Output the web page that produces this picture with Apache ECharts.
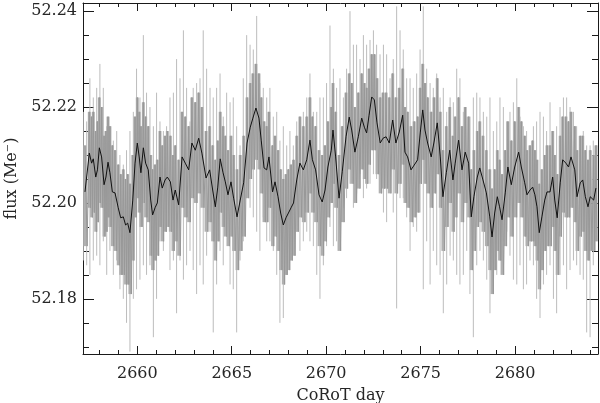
<!DOCTYPE html>
<html>
<head>
<meta charset="utf-8">
<script src="https://cdn.jsdelivr.net/npm/echarts@6/dist/echarts.min.js"></script>
<style>html,body{margin:0;padding:0;background:#fff}#c{width:600px;height:403px}</style>
</head>
<body>
<div id="c"></div>
<script>
// ---- data ----
const xMajorTicks = [2660, 2665, 2670, 2675, 2680];
const xMinorTicks = [2658, 2659, 2661, 2662, 2663, 2664, 2666, 2667, 2668, 2669, 2671, 2672, 2673, 2674, 2676, 2677, 2678, 2679, 2681, 2682, 2683, 2684];
const yMajorTicks = [52.18, 52.20, 52.22, 52.24];
const yMinorTicks = [52.17, 52.175, 52.185, 52.19, 52.195, 52.205, 52.21, 52.215, 52.225, 52.23, 52.235];

// smoothed (black) curve
const smoothDay = [2657.23,2657.46,2657.58,2657.67,2657.80,2657.89,2657.99,2658.11,2658.24,2658.34,
2658.45,2658.55,2658.68,2658.82,2658.99,2659.12,2659.26,2659.38,2659.49,2659.61,
2659.76,2659.88,2660.00,2660.10,2660.19,2660.32,2660.44,2660.58,2660.71,2660.81,
2660.94,2661.06,2661.20,2661.32,2661.47,2661.59,2661.75,2661.89,2662.01,2662.19,
2662.37,2662.54,2662.72,2662.89,2663.07,2663.25,2663.42,2663.64,2663.83,2663.99,
2664.13,2664.26,2664.39,2664.54,2664.66,2664.80,2664.96,2665.10,2665.28,2665.45,
2665.63,2665.81,2665.98,2666.12,2666.28,2666.44,2666.56,2666.71,2666.85,2666.97,
2667.16,2667.29,2667.45,2667.59,2667.73,2667.87,2668.00,2668.14,2668.27,2668.44,
2668.61,2668.79,2668.97,2669.14,2669.27,2669.44,2669.62,2669.79,2669.94,2670.09,
2670.27,2670.36,2670.50,2670.68,2670.85,2671.05,2671.22,2671.35,2671.52,2671.70,
2671.88,2672.02,2672.14,2672.27,2672.41,2672.55,2672.69,2672.86,2673.01,2673.17,
2673.34,2673.52,2673.69,2673.87,2674.05,2674.17,2674.31,2674.49,2674.66,2674.84,
2674.98,2675.11,2675.23,2675.37,2675.56,2675.71,2675.88,2676.04,2676.18,2676.36,
2676.54,2676.71,2676.83,2677.01,2677.19,2677.36,2677.54,2677.68,2677.82,2678.00,
2678.13,2678.30,2678.48,2678.66,2678.78,2678.92,2679.06,2679.18,2679.31,2679.48,
2679.62,2679.80,2679.98,2680.19,2680.33,2680.51,2680.63,2680.79,2680.93,2681.05,
2681.16,2681.28,2681.42,2681.57,2681.69,2681.85,2681.99,2682.10,2682.23,2682.39,
2682.52,2682.69,2682.83,2682.96,2683.16,2683.28,2683.45,2683.58,2683.72,2683.86,
2683.98,2684.16,2684.28];
const smoothFlux = [52.2023,52.2104,52.2083,52.2092,52.2054,52.2069,52.2115,52.2096,52.2038,52.2054,
52.2085,52.2063,52.2023,52.2021,52.1990,52.1969,52.1971,52.1954,52.1958,52.1938,
52.2006,52.2083,52.2125,52.2096,52.2063,52.2115,52.2083,52.2069,52.2006,52.1975,
52.1990,52.2000,52.2054,52.2031,52.2048,52.2054,52.2044,52.2006,52.2027,52.1996,
52.2096,52.2083,52.2069,52.2125,52.2110,52.2135,52.2104,52.2052,52.2069,52.2027,
52.1992,52.2033,52.2092,52.2063,52.2044,52.2017,52.2044,52.2010,52.1971,52.2006,
52.2042,52.2125,52.2158,52.2177,52.2198,52.2177,52.2131,52.2073,52.2069,52.2096,
52.2023,52.2044,52.2013,52.1979,52.1954,52.1969,52.1979,52.1990,52.2000,52.2048,
52.2083,52.2069,52.2090,52.2131,52.2090,52.2069,52.2017,52.2002,52.2027,52.2075,
52.2110,52.2152,52.2096,52.2010,52.2065,52.2138,52.2179,52.2152,52.2106,52.2138,
52.2177,52.2158,52.2146,52.2183,52.2221,52.2215,52.2167,52.2125,52.2135,52.2138,
52.2125,52.2173,52.2125,52.2148,52.2183,52.2106,52.2096,52.2069,52.2079,52.2090,
52.2146,52.2194,52.2152,52.2125,52.2096,52.2127,52.2167,52.2096,52.2013,52.2063,
52.2110,52.2048,52.2083,52.2131,52.2069,52.2106,52.2083,52.1971,52.2013,52.2054,
52.2073,52.2048,52.2021,52.1971,52.1929,52.1979,52.2013,52.1992,52.1965,52.2021,
52.2075,52.2038,52.2075,52.2106,52.2075,52.2042,52.2017,52.2027,52.2033,52.2017,
52.1992,52.1938,52.1971,52.2006,52.2023,52.2023,52.2054,52.2006,52.1969,52.2042,
52.2090,52.2083,52.2075,52.2096,52.2069,52.2013,52.2042,52.2048,52.2013,52.1992,
52.2013,52.2006,52.2031];

// dense core of the raw light curve (upper / lower edge at the same days)
const coreHigh = [52.212,52.219,52.218,52.219,52.215,52.217,52.222,52.220,52.214,52.215,
52.218,52.216,52.212,52.211,52.208,52.206,52.207,52.205,52.206,52.204,
52.210,52.218,52.222,52.219,52.216,52.221,52.218,52.216,52.210,52.207,
52.208,52.209,52.215,52.212,52.214,52.215,52.214,52.210,52.212,52.209,
52.219,52.218,52.216,52.222,52.221,52.223,52.220,52.215,52.216,52.212,
52.209,52.213,52.219,52.216,52.214,52.211,52.214,52.210,52.207,52.210,
52.214,52.222,52.225,52.227,52.229,52.227,52.222,52.217,52.216,52.219,
52.212,52.214,52.211,52.207,52.205,52.206,52.207,52.208,52.209,52.214,
52.218,52.216,52.218,52.222,52.218,52.216,52.211,52.210,52.212,52.217,
52.220,52.225,52.219,52.210,52.216,52.223,52.227,52.225,52.220,52.223,
52.227,52.225,52.224,52.228,52.231,52.231,52.226,52.222,52.223,52.223,
52.222,52.227,52.222,52.224,52.228,52.220,52.219,52.216,52.217,52.218,
52.224,52.229,52.225,52.222,52.219,52.222,52.226,52.219,52.211,52.216,
52.220,52.214,52.218,52.222,52.216,52.220,52.218,52.207,52.211,52.215,
52.217,52.214,52.211,52.207,52.203,52.207,52.211,52.209,52.206,52.211,
52.217,52.213,52.217,52.220,52.217,52.214,52.211,52.212,52.213,52.211,
52.209,52.204,52.207,52.210,52.212,52.212,52.215,52.210,52.206,52.214,
52.218,52.218,52.217,52.219,52.216,52.211,52.214,52.214,52.211,52.209,
52.211,52.210,52.212];
const coreLow = [52.191,52.199,52.197,52.198,52.194,52.196,52.200,52.199,52.193,52.194,
52.197,52.195,52.191,52.190,52.187,52.185,52.185,52.183,52.183,52.181,
52.188,52.197,52.201,52.198,52.195,52.200,52.197,52.196,52.189,52.186,
52.188,52.189,52.195,52.192,52.194,52.195,52.194,52.190,52.192,52.189,
52.199,52.197,52.196,52.201,52.200,52.202,52.199,52.194,52.196,52.192,
52.188,52.192,52.198,52.195,52.193,52.191,52.193,52.190,52.186,52.190,
52.193,52.201,52.205,52.207,52.209,52.207,52.202,52.196,52.196,52.199,
52.191,52.193,52.190,52.186,52.183,52.185,52.186,52.188,52.189,52.194,
52.197,52.196,52.198,52.202,52.198,52.196,52.191,52.189,52.192,52.197,
52.200,52.204,52.199,52.190,52.196,52.203,52.207,52.204,52.200,52.203,
52.207,52.205,52.204,52.208,52.211,52.211,52.206,52.202,52.203,52.203,
52.202,52.207,52.202,52.204,52.208,52.200,52.199,52.196,52.197,52.198,
52.204,52.209,52.204,52.202,52.199,52.202,52.206,52.199,52.190,52.195,
52.200,52.194,52.197,52.202,52.196,52.200,52.197,52.186,52.190,52.195,
52.196,52.194,52.191,52.186,52.181,52.186,52.190,52.188,52.185,52.191,
52.197,52.193,52.197,52.200,52.197,52.193,52.191,52.192,52.192,52.191,
52.188,52.182,52.186,52.190,52.191,52.191,52.195,52.190,52.185,52.193,
52.198,52.197,52.197,52.199,52.196,52.190,52.193,52.194,52.190,52.188,
52.190,52.190,52.192];

// outlying spikes of the raw light curve
const spikeDay = [2657.14,2657.32,2657.49,2657.67,2657.85,2658.02,2658.20,2658.38,2658.55,2658.73,
2658.91,2659.08,2659.26,2659.43,2659.61,2659.79,2659.96,2660.14,2660.32,2660.49,
2660.67,2660.85,2661.02,2661.20,2661.38,2661.55,2661.73,2661.91,2662.08,2662.26,
2662.44,2662.61,2662.79,2662.96,2663.14,2663.32,2663.49,2663.67,2663.85,2664.02,
2664.20,2664.38,2664.55,2664.73,2664.91,2665.08,2665.26,2665.44,2665.61,2665.79,
2665.97,2666.14,2666.32,2666.49,2666.67,2666.85,2667.02,2667.20,2667.38,2667.55,
2667.73,2667.91,2668.08,2668.26,2668.44,2668.61,2668.79,2668.97,2669.14,2669.32,
2669.50,2669.67,2669.85,2670.02,2670.20,2670.38,2670.55,2670.73,2670.91,2671.08,
2671.26,2671.44,2671.61,2671.79,2671.97,2672.14,2672.32,2672.50,2672.67,2672.85,
2673.03,2673.20,2673.38,2673.55,2673.73,2673.91,2674.08,2674.26,2674.44,2674.61,
2674.79,2674.97,2675.14,2675.32,2675.50,2675.67,2675.85,2676.03,2676.20,2676.38,
2676.56,2676.73,2676.91,2677.08,2677.26,2677.44,2677.61,2677.79,2677.97,2678.14,
2678.32,2678.50,2678.67,2678.85,2679.03,2679.20,2679.38,2679.56,2679.73,2679.91,
2680.09,2680.26,2680.44,2680.61,2680.79,2680.97,2681.14,2681.32,2681.50,2681.67,
2681.85,2682.03,2682.20,2682.38,2682.56,2682.73,2682.91,2683.09,2683.26,2683.44,
2683.61,2683.79,2683.97,2684.14,2684.32];
const spikeHigh = [52.219,52.217,52.226,52.222,52.224,52.229,52.224,52.216,52.215,52.213,
52.215,52.210,52.208,52.211,52.215,52.219,52.228,52.222,52.235,52.223,
52.220,52.216,52.223,52.217,52.215,52.216,52.222,52.223,52.230,52.226,
52.236,52.224,52.217,52.224,52.225,52.226,52.236,52.228,52.224,52.222,
52.224,52.227,52.218,52.223,52.221,52.222,52.216,52.212,52.226,52.235,
52.233,52.232,52.239,52.225,52.224,52.222,52.224,52.218,52.219,52.213,
52.216,52.212,52.215,52.212,52.217,52.215,52.219,52.222,52.227,52.219,
52.219,52.222,52.222,52.225,52.237,52.228,52.224,52.226,52.222,52.228,
52.240,52.233,52.233,52.230,52.235,52.233,52.234,52.236,52.233,52.231,
52.233,52.231,52.226,52.230,52.241,52.236,52.232,52.226,52.226,52.224,
52.227,52.232,52.241,52.228,52.225,52.224,52.227,52.222,52.224,52.219,
52.222,52.221,52.228,52.226,52.219,52.218,52.218,52.222,52.223,52.222,
52.219,52.218,52.222,52.215,52.217,52.222,52.220,52.217,52.219,52.221,
52.226,52.218,52.216,52.215,52.211,52.216,52.217,52.219,52.218,52.215,
52.221,52.215,52.216,52.220,52.222,52.222,52.220,52.219,52.216,52.213,
52.215,52.212,52.212,52.213,52.212];
const spikeLow = [52.188,52.187,52.185,52.188,52.189,52.187,52.192,52.185,52.190,52.185,
52.188,52.182,52.180,52.175,52.169,52.180,52.182,52.184,52.187,52.185,
52.187,52.172,52.180,52.192,52.190,52.194,52.186,52.188,52.177,52.188,
52.184,52.187,52.190,52.186,52.181,52.187,52.183,52.189,52.194,52.173,
52.183,52.190,52.187,52.194,52.183,52.182,52.173,52.188,52.192,52.201,
52.199,52.197,52.194,52.190,52.197,52.192,52.192,52.190,52.185,52.175,
52.176,52.185,52.188,52.190,52.194,52.190,52.192,52.194,52.192,52.191,
52.185,52.180,52.187,52.191,52.195,52.191,52.192,52.195,52.199,52.201,
52.204,52.199,52.202,52.206,52.201,52.203,52.204,52.206,52.205,52.203,
52.198,52.196,52.203,52.198,52.178,52.201,52.201,52.197,52.190,52.195,
52.194,52.198,52.182,52.192,52.183,52.190,52.187,52.185,52.177,52.183,
52.189,52.188,52.185,52.183,52.185,52.190,52.181,52.172,52.187,52.190,
52.188,52.184,52.177,52.187,52.185,52.188,52.192,52.194,52.189,52.184,
52.183,52.187,52.182,52.183,52.188,52.187,52.180,52.176,52.183,52.185,
52.187,52.180,52.177,52.185,52.187,52.182,52.186,52.188,52.187,52.185,
52.184,52.173,52.172,52.187,52.194];

// ---- chart ----
const X_MIN = 2657.125, X_MAX = 2684.39;
const Y_MIN = 52.1685, Y_MAX = 52.2417;
const FONT = 'DejaVu Serif';
const AX = '#1a1a1a';
const TXT = '#262626';

function xAxisDef(pos, ticks, len, withLine, withLabel) {
  return {
    type: 'value', position: pos, min: X_MIN, max: X_MAX,
    axisLine: { show: withLine, onZero: false, lineStyle: { color: AX, width: 1 } },
    axisTick: { show: true, inside: true, length: len, customValues: ticks, lineStyle: { color: AX, width: 1 } },
    axisLabel: withLabel ? { show: true, customValues: ticks, formatter: v => String(Math.round(v)),
      fontFamily: FONT, fontSize: 16, color: TXT, margin: 12 } : { show: false },
    splitLine: { show: false }
  };
}
function yAxisDef(pos, ticks, len, withLine, withLabel) {
  return {
    type: 'value', position: pos, min: Y_MIN, max: Y_MAX,
    axisLine: { show: withLine, onZero: false, lineStyle: { color: AX, width: 1 } },
    axisTick: { show: true, inside: true, length: len, customValues: ticks, lineStyle: { color: AX, width: 1 } },
    axisLabel: withLabel ? { show: true, customValues: ticks, formatter: v => v.toFixed(2),
      fontFamily: FONT, fontSize: 16, color: TXT, margin: 6, padding: [4, 0, 0, 0] } : { show: false },
    splitLine: { show: false }
  };
}

const xAxes = [
  xAxisDef('bottom', xMajorTicks, 8, true, true),
  xAxisDef('bottom', xMinorTicks, 4, false, false),
  xAxisDef('top', xMajorTicks, 8, true, false),
  xAxisDef('top', xMinorTicks, 4, false, false)
];
Object.assign(xAxes[0], { name: 'CoRoT day', nameLocation: 'middle', nameGap: 34,
  nameTextStyle: { fontFamily: FONT, fontSize: 16, color: TXT } });
const yAxes = [
  yAxisDef('left', yMajorTicks, 11, true, true),
  yAxisDef('left', yMinorTicks, 6, false, false),
  yAxisDef('right', yMajorTicks, 11, true, false),
  yAxisDef('right', yMinorTicks, 6, false, false)
];
Object.assign(yAxes[0], { name: 'flux (Me\u207B)', nameLocation: 'middle', nameGap: 60, nameRotate: 90,
  nameTextStyle: { fontFamily: FONT, fontSize: 16, color: TXT } });

function vbar(color, width) {
  return function (params, api) {
    const p1 = api.coord([api.value(0), api.value(1)]);
    const p2 = api.coord([api.value(0), api.value(2)]);
    return { type: 'line', shape: { x1: p1[0], y1: p1[1], x2: p2[0], y2: p2[1] },
      style: { stroke: color, lineWidth: width } };
  };
}

const spikeData = spikeDay.map((d, i) => [d, spikeLow[i], spikeHigh[i]]);
const coreBars = smoothDay.map((d, i) => [d, coreLow[i], coreHigh[i]]);
// dense core drawn as a zig-zag between its upper and lower edge
const coreZig = [];
smoothDay.forEach((d, i) => {
  const next = i < smoothDay.length - 1 ? smoothDay[i + 1] : d + 0.12;
  coreZig.push([d, coreHigh[i]]);
  coreZig.push([(d + next) / 2, coreLow[i]]);
});
const smoothData = smoothDay.map((d, i) => [d, smoothFlux[i]]);

const chart = echarts.init(document.getElementById('c'), null, { renderer: 'canvas' });
chart.setOption({
  animation: false,
  backgroundColor: '#ffffff',
  grid: { left: 83, right: 2, top: 3, bottom: 49, containLabel: false, outerBoundsMode: 'none' },
  xAxis: xAxes,
  yAxis: yAxes,
  series: [
    { type: 'custom', name: 'spikes', xAxisIndex: 0, yAxisIndex: 0, clip: true,
      encode: { x: 0, y: [1, 2] }, renderItem: vbar('#bcbcbc', 1), data: spikeData },
    { type: 'custom', name: 'coreFill', xAxisIndex: 0, yAxisIndex: 0, clip: true,
      encode: { x: 0, y: [1, 2] }, renderItem: vbar('#b0b0b0', 3), data: coreBars },
    { type: 'line', name: 'core', xAxisIndex: 0, yAxisIndex: 0, data: coreZig,
      showSymbol: false, symbol: 'none', lineStyle: { color: '#989898', width: 1 }, z: 3 },
    { type: 'line', name: 'smoothed', xAxisIndex: 0, yAxisIndex: 0, data: smoothData,
      showSymbol: false, symbol: 'none', lineStyle: { color: '#111', width: 1 }, z: 5 }
  ]
});
</script>
</body>
</html>
